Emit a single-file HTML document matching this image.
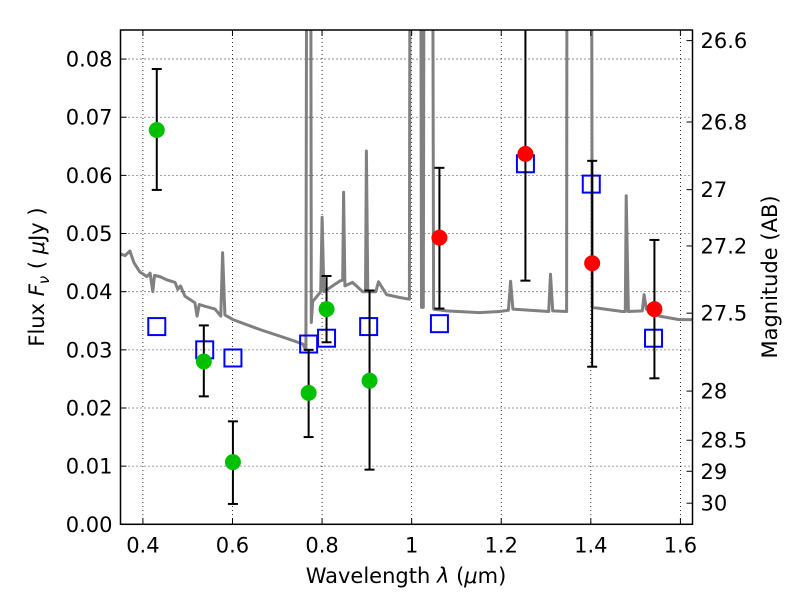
<!DOCTYPE html>
<html><head><meta charset="utf-8"><style>
body{margin:0;background:#fff;}
svg{display:block;font-family:"DejaVu Sans","Liberation Sans",sans-serif;}
</style></head><body>
<svg id="chart" width="800" height="600" xmlns="http://www.w3.org/2000/svg">
<defs><clipPath id="clip"><rect x="120.5" y="30" width="572" height="494.3"/></clipPath></defs>
<rect width="800" height="600" fill="#fff"/>
<g id="grid"></g>
<g id="spec" clip-path="url(#clip)"></g>
<g id="marks" clip-path="url(#clip)"></g>
<g id="axes"></g>
<text x="406" y="583" font-size="21" text-anchor="middle">Wavelength  <tspan font-style="italic">λ</tspan> (<tspan font-style="italic">μ</tspan>m)</text>
<text transform="translate(44,277) rotate(-90)" font-size="21" text-anchor="middle">Flux  <tspan font-style="italic">F</tspan><tspan font-style="italic" font-size="15" dy="5">ν</tspan><tspan dy="-5">  ( </tspan><tspan font-style="italic">μ</tspan>Jy )</text>
<text transform="translate(777,277) rotate(-90)" font-size="21" text-anchor="middle">Magnitude (AB)</text>
</svg>
<script>
const xTicks=[0.4,0.6,0.8,1.0,1.2,1.4,1.6];
const xTickLabels=["0.4","0.6","0.8","1","1.2","1.4","1.6"];
const yTicks=[0,0.01,0.02,0.03,0.04,0.05,0.06,0.07,0.08];
const yTickLabels=["0.00","0.01","0.02","0.03","0.04","0.05","0.06","0.07","0.08"];
const magTicks=[26.6,26.8,27,27.2,27.5,28,28.5,29,30];
const magLabels=["26.6","26.8","27","27.2","27.5","28","28.5","29","30"];
const greenX=[0.431,0.536,0.601,0.770,0.810,0.906];
const greenY=[0.0678,0.028,0.0107,0.0226,0.037,0.0247];
const greenLo=[0.0575,0.022,0.0035,0.015,0.0313,0.0094];
const greenHi=[0.0783,0.0342,0.0177,0.030,0.0427,0.0402];
const redX=[1.062,1.254,1.403,1.542];
const redY=[0.0493,0.0637,0.0449,0.037];
const redLo=[0.0371,0.0419,0.0271,0.0251];
const redHi=[0.0613,0.09,0.0625,0.0489];
const boxX=[0.431,0.538,0.601,0.770,0.810,0.904,1.062,1.254,1.401,1.540];
const boxY=[0.034,0.030,0.0286,0.031,0.032,0.034,0.0345,0.062,0.0585,0.032];
const specX=[0.350,0.360,0.371,0.380,0.393,0.409,0.416,0.422,0.426,0.438,0.455,0.472,0.478,0.484,0.494,0.516,0.521,0.526,0.538,0.561,0.574,0.578,0.583,0.601,0.661,0.728,0.757,0.764,0.768,0.773,0.776,0.779,0.797,0.800,0.804,0.839,0.846,0.848,0.851,0.868,0.891,0.897,0.899,0.902,0.920,0.926,0.944,0.973,0.995,0.998,1.002,1.005,1.018,1.022,1.026,1.030,1.044,1.049,1.078,1.151,1.196,1.216,1.221,1.226,1.285,1.306,1.310,1.315,1.346,1.348,1.400,1.403,1.470,1.477,1.479,1.484,1.515,1.519,1.524,1.553,1.597,1.627];
const specY=[0.0465,0.0462,0.047,0.045,0.0434,0.0426,0.0432,0.040,0.0428,0.0426,0.042,0.0416,0.0404,0.041,0.0392,0.0381,0.0358,0.0378,0.0375,0.037,0.0358,0.0467,0.036,0.0352,0.0335,0.0318,0.031,0.030,0.2,0.2,0.0347,0.0383,0.040,0.0528,0.040,0.0418,0.042,0.0571,0.041,0.0416,0.040,0.040,0.0642,0.040,0.040,0.0417,0.0395,0.039,0.0387,0.2,0.2,0.2,0.2,0.0373,0.0373,0.2,0.2,0.037,0.0367,0.0364,0.0366,0.0368,0.0418,0.037,0.0367,0.0366,0.043,0.0367,0.0366,0.2,0.2,0.0373,0.0366,0.0366,0.0565,0.0366,0.0367,0.0395,0.037,0.0358,0.0352,0.0352];

const L=120.5,R=692.5,T=30,B=524.3,XMIN=0.35,XMAX=1.627,YMIN=0,YMAX=0.085;
const sx=v=>L+(v-XMIN)/(XMAX-XMIN)*(R-L);
const sy=v=>B-(v-YMIN)/(YMAX-YMIN)*(B-T);
const magToFlux=m=>Math.pow(10,(23.9-m)/2.5);
const NS="http://www.w3.org/2000/svg";
function mk(tag,attrs,parent){const e=document.createElementNS(NS,tag);for(const k in attrs)e.setAttribute(k,attrs[k]);parent.appendChild(e);return e;}
const grid=document.getElementById('grid'),axes=document.getElementById('axes'),spec=document.getElementById('spec'),marks=document.getElementById('marks');

xTicks.forEach((t,i)=>{const x=sx(t);
 let g=mk('line',{x1:x,x2:x,y1:T,y2:B,stroke:'#000','stroke-width':0.8,'stroke-dasharray':'1,3'},grid);
 
 mk('line',{x1:x,x2:x,y1:B,y2:B-6,stroke:'#000','stroke-width':1},axes);
 mk('line',{x1:x,x2:x,y1:T,y2:T+6,stroke:'#000','stroke-width':1},axes);
 let tx=mk('text',{x:x,y:B+28,'font-size':21,'text-anchor':'middle'},axes);tx.textContent=xTickLabels[i];
 
});
yTicks.forEach((t,i)=>{const y=sy(t);
 let g=mk('line',{x1:L,x2:R,y1:y,y2:y,stroke:'#000','stroke-width':0.8,'stroke-dasharray':'1,3'},grid);
 
 mk('line',{x1:L,x2:L+6,y1:y,y2:y,stroke:'#000','stroke-width':1},axes);
 let tx=mk('text',{x:L-8,y:y+7.5,'font-size':21,'text-anchor':'end'},axes);tx.textContent=yTickLabels[i];
 
});
magTicks.forEach((m,i)=>{const y=sy(magToFlux(m));
 mk('line',{x1:R,x2:R-6,y1:y,y2:y,stroke:'#000','stroke-width':1},axes);
 let tx=mk('text',{x:R+8,y:y+7.5,'font-size':21},axes);tx.textContent=magLabels[i];
 
});
let fr=mk('rect',{x:L,y:T,width:R-L,height:B-T,fill:'none',stroke:'#000','stroke-width':1.5},axes);


let d=specX.map((x,i)=>(i?'L':'M')+sx(x).toFixed(1)+','+sy(specY[i]).toFixed(1)).join('');
let sp=mk('path',{d:d,fill:'none',stroke:'#808080','stroke-width':3,'stroke-linejoin':'round'},spec);


function errbar(x,lo,hi){const X=sx(x);
 let e=mk('g',{},marks);
 
 mk('line',{x1:X,x2:X,y1:sy(lo),y2:sy(hi),stroke:'#000','stroke-width':2},e);
 mk('line',{x1:X-5,x2:X+5,y1:sy(lo),y2:sy(lo),stroke:'#000','stroke-width':2},e);
 mk('line',{x1:X-5,x2:X+5,y1:sy(hi),y2:sy(hi),stroke:'#000','stroke-width':2},e);
}
boxX.forEach((x,i)=>{let r=mk('rect',{x:sx(x)-8.5,y:sy(boxY[i])-8.5,width:17,height:17,fill:'none',stroke:'#0000ff','stroke-width':2},marks);
 });
greenX.forEach((x,i)=>errbar(x,greenLo[i],greenHi[i]));
redX.forEach((x,i)=>errbar(x,redLo[i],redHi[i]));
greenX.forEach((x,i)=>{let c=mk('circle',{cx:sx(x),cy:sy(greenY[i]),r:8,fill:'#00c000'},marks);
 });
redX.forEach((x,i)=>{let c=mk('circle',{cx:sx(x),cy:sy(redY[i]),r:8,fill:'#ff0000'},marks);
 });
</script>
</body></html>
